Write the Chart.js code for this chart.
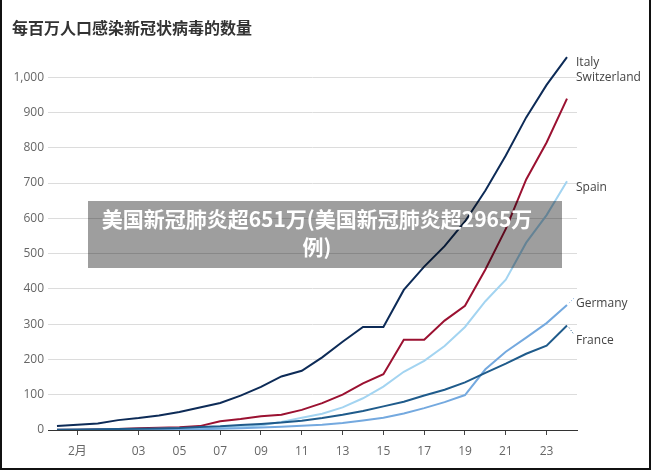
<!DOCTYPE html>
<html lang="zh">
<head>
<meta charset="UTF-8">
<title>每百万人口感染新冠状病毒的数量</title>
<script src="https://cdn.jsdelivr.net/npm/chart.js"></script>
<style>
  body { margin: 0; background: #fff; font-family: "Open Sans", "Noto Sans CJK SC", sans-serif; }
  .page { position: relative; width: 651px; height: 470px; overflow: hidden; }
  .page canvas { position: absolute; left: 0; top: 0; }
  .title { position: absolute; left: 12px; top: 17px; font: bold 16px/20px "Noto Sans CJK SC", sans-serif; color: #333; }
  .banner { position: absolute; left: 88px; top: 201px; width: 474px; height: 67px; box-sizing: border-box; padding: 3px 16px 0 0;
            background: rgba(0,0,0,0.38); color: #fff; text-align: center; font: bold 21px/28px "Noto Sans CJK SC", sans-serif; }
  .frame { position: absolute; left: 0; top: 0; width: 651px; height: 470px; box-sizing: border-box;
           border: 2px solid #111; border-top: none; pointer-events: none; }
</style>
</head>
<body>
<div class="page">
  <canvas id="casesChart" width="651" height="470"></canvas>
  <div class="title">每百万人口感染新冠状病毒的数量</div>
  <div class="banner">美国新冠肺炎超651万(美国新冠肺炎超2965万<br>例)</div>
  <div class="frame"></div>
</div>

<script>
  // one entry per day, 2020-02-28 .. 2020-03-24
  const dates = ['02-28', '02-29', '03-01', '03-02', '03-03', '03-04', '03-05', '03-06', '03-07', '03-08',
                 '03-09', '03-10', '03-11', '03-12', '03-13', '03-14', '03-15', '03-16', '03-17', '03-18',
                 '03-19', '03-20', '03-21', '03-22', '03-23', '03-24'];
  const tickDates = ['02-29', '03-03', '03-05', '03-07', '03-09', '03-11', '03-13', '03-15', '03-17', '03-19', '03-21', '03-23'];
  const tickText  = ['2月', '03', '05', '07', '09', '11', '13', '15', '17', '19', '21', '23'];

  // confirmed cases per million people
  const italy       = [11, 14.7, 18.7, 28, 33.7, 41.4, 51, 63.8, 76.7, 97.3, 122, 151.7, 167.9, 206, 250, 292, 292, 397, 463, 521, 591, 679, 778, 886, 978, 1057];
  const switzerland = [0.9, 0.9, 2.1, 3.1, 4.9, 6.5, 7.5, 11, 25, 31, 39, 43.5, 57, 76, 100, 132, 158, 256, 256, 310, 352, 455, 570, 710, 815, 939];
  const spain       = [0.5, 0.7, 1, 1.8, 2.4, 3.2, 4.2, 5.6, 8, 9, 12.5, 23, 35, 46, 64, 90, 123, 165, 196, 238, 292, 365, 426, 531, 609, 705];
  const germany     = [0.2, 0.3, 0.5, 0.6, 0.8, 1.2, 1.6, 2.4, 3.4, 4.8, 7, 9, 12, 15, 20, 27, 35, 47, 62, 79, 99, 172, 222, 262, 303, 354];
  const france      = [0.85, 1.5, 1.9, 2.9, 3.2, 4.3, 5.6, 8.6, 10.5, 14, 17, 21, 26.5, 34, 43, 54, 67, 80, 98, 114, 135, 162, 188, 216, 239, 296];

  const seriesNames = ['France', 'Germany', 'Spain', 'Switzerland', 'Italy'];
  const seriesData = [france, germany, spain, switzerland, italy];
  const colors = ['#1f5b8b', '#74a9df', '#a3d4f1', '#9b1131', '#0d2b57'];
  // label nudges so the names at the right don't collide
  const labelShift = [15, -2, 6, -21, 6];

  const toPoints = arr => arr.map((v, i) => ({ x: i, y: v }));

  const endLabels = {
    id: 'endLabels',
    afterDatasetsDraw(chart) {
      const ctx = chart.ctx;
      ctx.save();
      ctx.font = '12px "Open Sans", sans-serif';
      ctx.textBaseline = 'middle';
      ctx.textAlign = 'left';
      chart.data.datasets.forEach((ds, i) => {
        const pts = chart.getDatasetMeta(i).data;
        const last = pts[pts.length - 1];
        const ly = last.y + labelShift[i];
        if (ds.label == 'France' || ds.label == 'Germany') {
          // little dotted leader from the line end to its name
          const up = ds.label == 'Germany';
          ctx.strokeStyle = ds.borderColor;
          ctx.lineWidth = 1;
          ctx.setLineDash([1, 2]);
          ctx.beginPath();
          ctx.moveTo(last.x + 2, last.y + (up ? -2 : 2));
          ctx.lineTo(last.x + 7, last.y + (up ? -7 : 9));
          ctx.stroke();
          ctx.setLineDash([]);
        }
        ctx.fillStyle = '#444';
        ctx.fillText(ds.label, last.x + 9, ly);
      });
      ctx.restore();
    }
  };

  new Chart(document.getElementById('casesChart'), {
    type: 'line',
    data: {
      datasets: seriesNames.map((name, i) => ({
        label: name,
        data: toPoints(seriesData[i]),
        borderColor: colors[i],
        backgroundColor: colors[i],
        borderWidth: 2,
        pointRadius: 0,
        tension: 0,
        fill: false
      }))
    },
    options: {
      responsive: false,
      animation: false,
      layout: { padding: { top: 56, right: 74, left: 0, bottom: 0 } },
      plugins: { legend: { display: false }, tooltip: { enabled: false } },
      scales: {
        x: {
          type: 'linear',
          min: -0.44,
          max: 25.49,
          afterBuildTicks: s => { s.ticks = tickDates.map(d => ({ value: dates.indexOf(d) })); },
          afterFit: s => { s.height = 40; },
          ticks: {
            autoSkip: false, maxRotation: 0, padding: 9, color: '#666',
            font: { family: '"Open Sans", "Noto Sans CJK SC", sans-serif', size: 12 },
            callback: v => tickText[tickDates.indexOf(dates[v])]
          },
          grid: { display: true, drawOnChartArea: false, drawTicks: true, tickLength: 5, color: '#444' },
          border: { display: true, color: '#333', width: 1 }
        },
        y: {
          min: 0,
          max: 1060,
          afterFit: s => { s.width = 48; },
          ticks: {
            stepSize: 100, includeBounds: false, padding: 4, color: '#666',
            font: { family: '"Open Sans", sans-serif', size: 12 },
            callback: v => v.toLocaleString('en-US')
          },
          grid: { color: '#dcdcdc', drawTicks: false },
          border: { display: false }
        }
      }
    },
    plugins: [endLabels]
  });
</script>
</body>
</html>
